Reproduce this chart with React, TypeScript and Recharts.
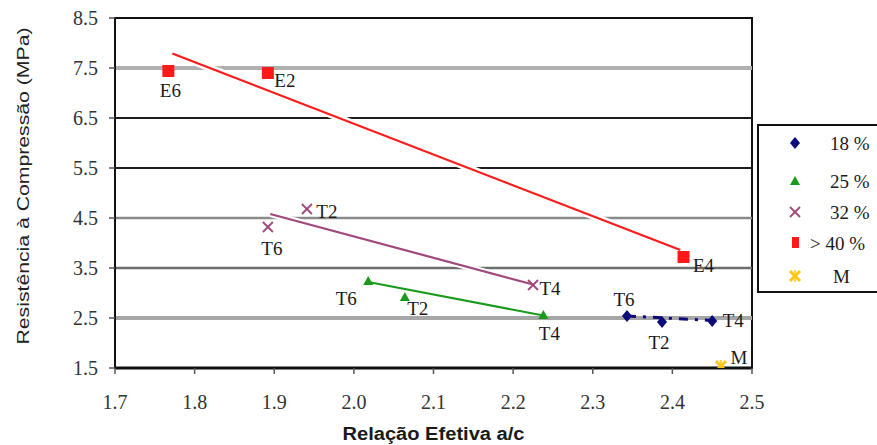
import React from 'react';
import { ComposedChart, Scatter, XAxis, YAxis, ReferenceLine, ReferenceArea, LabelList, Label } from 'recharts';

const xTicks = [1.7, 1.8, 1.9, 2.0, 2.1, 2.2, 2.3, 2.4, 2.5];
const yTicks = [1.5, 2.5, 3.5, 4.5, 5.5, 6.5, 7.5, 8.5];

// horizontal rules inside the plot
const gridValues = [2.5, 3.5, 4.5, 5.5, 6.5, 7.5];
const gridColors = ['#a6a6a6', '#6e6e6e', '#8a8a8a', '#1c1c1c', '#1c1c1c', '#b0b0b0'];
const gridWidths = [4, 2.5, 2.5, 2, 2, 4];

// 18 %
const names18 = ['T6', 'T2', 'T4'];
const ratio18 = [2.343, 2.387, 2.45];
const strength18 = [2.54, 2.42, 2.44];
// 25 %
const names25 = ['T6', 'T2', 'T4'];
const ratio25 = [2.018, 2.064, 2.238];
const strength25 = [3.24, 2.92, 2.56];
// 32 %
const names32 = ['T6', 'T2', 'T4'];
const ratio32 = [1.892, 1.941, 2.225];
const strength32 = [4.32, 4.68, 3.16];
// > 40 %
const names40 = ['E6', 'E2', 'E4'];
const ratio40 = [1.767, 1.892, 2.414];
const strength40 = [7.44, 7.4, 3.72];
// M
const namesM = ['M'];
const ratioM = [2.461];
const strengthM = [1.54];

// trend lines (start / end)
const trend18X = [2.343, 2.45];
const trend18Y = [2.54, 2.45];
const trend25X = [2.018, 2.238];
const trend25Y = [3.22, 2.55];
const trend32X = [1.895, 2.225];
const trend32Y = [4.58, 3.17];
const trend40X = [1.772, 2.41];
const trend40Y = [7.79, 3.86];

const legendLabels = ['18 %', '25 %', '32 %', '> 40 %', 'M'];

// label offsets from each marker centre
const offsets18 = [[-3, -17], [-3, 20], [21, -1]];
const offsets25 = [[-22, 17], [13, 11], [6, 18]];
const offsets32 = [[4, 21], [20, 2], [17, 3]];
const offsets40 = [[2, 19], [17, 7], [20, 8]];
const offsetsM = [[18, -9]];

const toPoints = (xs: number[], ys: number[], names?: string[]) =>
  xs.map((x, i) => ({ x, y: ys[i], name: names ? names[i] : '' }));

const data18 = toPoints(ratio18, strength18, names18);
const data25 = toPoints(ratio25, strength25, names25);
const data32 = toPoints(ratio32, strength32, names32);
const data40 = toPoints(ratio40, strength40, names40);
const dataM = toPoints(ratioM, strengthM, namesM);

const line18 = toPoints(trend18X, trend18Y);
const line25 = toPoints(trend25X, trend25Y);
const line32 = toPoints(trend32X, trend32Y);
const line40 = toPoints(trend40X, trend40Y);

const SERIF = '"Liberation Serif", "Times New Roman", serif';
const SANS = '"Liberation Sans", Arial, sans-serif';

const NAVY = '#0a0a7a';
const GREEN = '#1a9a1a';
const PURPLE = '#a0487c';
const RED = '#ff1a1a';
const YELLOW = '#ffc61a';

const Diamond = ({ cx, cy }: any) => (
  <polygon points={`${cx},${cy - 6} ${cx + 5},${cy} ${cx},${cy + 6} ${cx - 5},${cy}`} fill={NAVY} />
);
const Triangle = ({ cx, cy }: any) => (
  <polygon points={`${cx},${cy - 5} ${cx + 5},${cy + 4} ${cx - 5},${cy + 4}`} fill={GREEN} />
);
const Cross = ({ cx, cy }: any) => (
  <g stroke={PURPLE} strokeWidth={1.8}>
    <line x1={cx - 5} y1={cy - 5} x2={cx + 5} y2={cy + 5} />
    <line x1={cx - 5} y1={cy + 5} x2={cx + 5} y2={cy - 5} />
  </g>
);
const Square = ({ cx, cy }: any) => <rect x={cx - 6} y={cy - 6} width={12} height={12} fill={RED} />;
const Star = ({ cx, cy }: any) => (
  <g stroke={YELLOW} strokeWidth={3}>
    <line x1={cx - 5} y1={cy - 5} x2={cx + 5} y2={cy + 5} />
    <line x1={cx - 5} y1={cy + 5} x2={cx + 5} y2={cy - 5} />
    <line x1={cx} y1={cy - 6} x2={cx} y2={cy + 6} strokeWidth={1.5} />
  </g>
);
const NoMark = () => <g />;

const pointLabel = (offsets: number[][]) => (props: any) => {
  const { viewBox, index, value } = props;
  if (!viewBox) return null;
  const cx = viewBox.x + (viewBox.width || 0) / 2;
  const cy = viewBox.y + (viewBox.height || 0) / 2;
  const [dx, dy] = offsets[index] || [0, 0];
  return (
    <text x={cx + dx} y={cy + dy} dy="0.35em" textAnchor="middle" fontFamily={SERIF} fontSize={19} fill="#1a1a1a">
      {value}
    </text>
  );
};

const YTitle = (props: any) => {
  const vb = props.viewBox || { x: 65, y: 18, width: 50, height: 350 };
  const x = vb.x - 42;
  const y = vb.y + vb.height / 2 - 7;
  return (
    <text
      x={x}
      y={y}
      dy="0.35em"
      transform={`rotate(-90, ${x}, ${y})`}
      textAnchor="middle"
      fontFamily={SANS}
      fontSize={17}
      fill="#222"
      textLength={317}
      lengthAdjust="spacingAndGlyphs"
    >
      Resistência à Compressão (MPa)
    </text>
  );
};

const XTitle = (props: any) => {
  const vb = props.viewBox || { x: 115, y: 368, width: 637, height: 30 };
  return (
    <text
      x={vb.x + vb.width / 2}
      y={vb.y + 72}
      textAnchor="middle"
      fontFamily={SANS}
      fontWeight="bold"
      fontSize={18}
      fill="#1a1a1a"
      textLength={182}
      lengthAdjust="spacingAndGlyphs"
    >
      Relação Efetiva a/c
    </text>
  );
};

const legendMarks = [Diamond, Triangle, Cross, (p: any) => <rect x={p.cx - 3} y={p.cy - 6} width={7} height={11} fill={RED} />, Star];
const legendRows = [17, 55, 86, 117, 150];
const legendTextX = [71, 71, 71, 51, 74];

function LegendBox() {
  return (
    <div
      style={{
        position: 'absolute',
        left: 757,
        top: 124,
        width: 120,
        height: 169,
        boxSizing: 'border-box',
        borderLeft: '2px solid #111',
        borderTop: '2px solid #111',
        borderBottom: '2px solid #111',
        background: '#fff',
      }}
    >
      <svg width={118} height={165} style={{ display: 'block' }}>
        {legendLabels.map((label, i) => {
          const Mark = legendMarks[i];
          return (
            <g key={label}>
              <Mark cx={36} cy={legendRows[i]} />
              <text x={legendTextX[i]} y={legendRows[i]} dy="0.35em" fontFamily={SERIF} fontSize={19} fill="#1a1a1a">
                {label}
              </text>
            </g>
          );
        })}
      </svg>
    </div>
  );
}

export default function App() {
  return (
    <div style={{ position: 'absolute', left: 0, top: 0, width: 877, height: 445, background: '#fff', overflow: 'hidden' }}>
      <ComposedChart width={877} height={445} margin={{ top: 18, right: 125, bottom: 47, left: 65 }}>
        <XAxis
          type="number"
          dataKey="x"
          domain={[1.7, 2.5]}
          ticks={xTicks}
          interval={0}
          allowDataOverflow
          tickFormatter={(v: number) => v.toFixed(1)}
          height={30}
          axisLine={{ stroke: '#111', strokeWidth: 3 }}
          tickLine={{ stroke: '#555', strokeWidth: 1.5 }}
          tickSize={6}
          tickMargin={21}
          tick={{ fill: '#333', fontSize: 20, fontFamily: SERIF }}
        >
          <Label content={XTitle} />
        </XAxis>
        <YAxis
          type="number"
          dataKey="y"
          domain={[1.5, 8.5]}
          ticks={yTicks}
          interval={0}
          allowDataOverflow
          tickFormatter={(v: number) => v.toFixed(1)}
          width={50}
          axisLine={{ stroke: '#111', strokeWidth: 2 }}
          tickLine={{ stroke: '#555', strokeWidth: 1.5 }}
          tickSize={6}
          tickMargin={11}
          tick={{ fill: '#333', fontSize: 20, fontFamily: SERIF }}
        >
          <Label content={YTitle} />
        </YAxis>

        {gridValues.map((v, i) => (
          <ReferenceLine key={v} y={v} stroke={gridColors[i]} strokeWidth={gridWidths[i]} />
        ))}
        <ReferenceArea x1={1.7} x2={2.5} y1={1.5} y2={8.5} fill="none" fillOpacity={0} stroke="#111" strokeWidth={2} />

        {/* trend lines, white casing under the long ones */}
        <Scatter data={line40} shape={NoMark} line={{ stroke: '#fff', strokeWidth: 7 }} isAnimationActive={false} />
        <Scatter data={line32} shape={NoMark} line={{ stroke: '#fff', strokeWidth: 6 }} isAnimationActive={false} />
        <Scatter data={line40} shape={NoMark} line={{ stroke: RED, strokeWidth: 2.2 }} isAnimationActive={false} />
        <Scatter data={line32} shape={NoMark} line={{ stroke: PURPLE, strokeWidth: 2.2 }} isAnimationActive={false} />
        <Scatter data={line25} shape={NoMark} line={{ stroke: GREEN, strokeWidth: 2 }} isAnimationActive={false} />
        <Scatter
          data={line18}
          shape={NoMark}
          line={{ stroke: NAVY, strokeWidth: 3, strokeDasharray: '9 7 3 7' }}
          isAnimationActive={false}
        />

        <Scatter name="18 %" data={data18} shape={Diamond} isAnimationActive={false}>
          <LabelList dataKey="name" content={pointLabel(offsets18)} />
        </Scatter>
        <Scatter name="25 %" data={data25} shape={Triangle} isAnimationActive={false}>
          <LabelList dataKey="name" content={pointLabel(offsets25)} />
        </Scatter>
        <Scatter name="32 %" data={data32} shape={Cross} isAnimationActive={false}>
          <LabelList dataKey="name" content={pointLabel(offsets32)} />
        </Scatter>
        <Scatter name="> 40 %" data={data40} shape={Square} isAnimationActive={false}>
          <LabelList dataKey="name" content={pointLabel(offsets40)} />
        </Scatter>
        <Scatter name="M" data={dataM} shape={Star} isAnimationActive={false}>
          <LabelList dataKey="name" content={pointLabel(offsetsM)} />
        </Scatter>
      </ComposedChart>
      <LegendBox />
    </div>
  );
}
